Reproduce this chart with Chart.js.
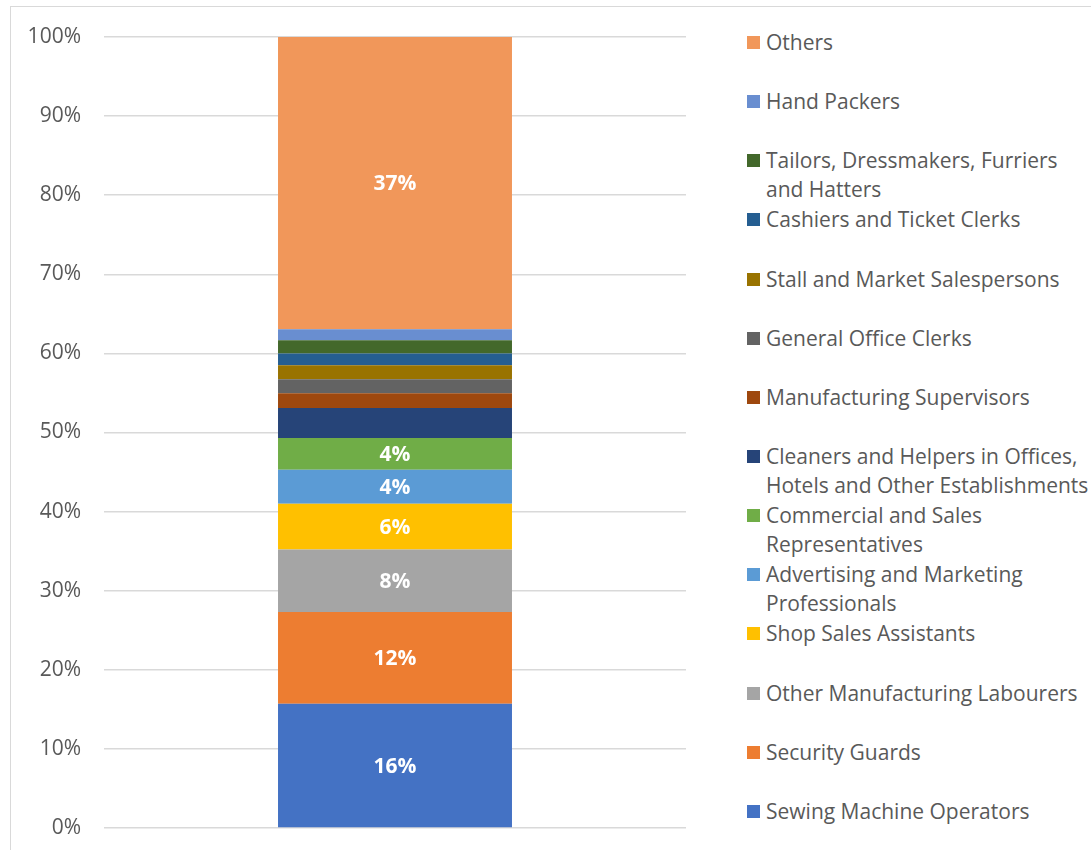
<!DOCTYPE html>
<html>
<head>
<meta charset="utf-8">
<script src="https://cdn.jsdelivr.net/npm/chart.js@4"></script>
<style>
    html, body { margin: 0; padding: 0; background: #fff; }
    body { width: 1091px; height: 850px; position: relative; overflow: hidden; font-family: "Open Sans", sans-serif; }
    #frame { position: absolute; left: 10px; top: 6px; width: 1100px; height: 860px; border: 1px solid #d9d9d9; box-sizing: border-box; }
    #chart { position: absolute; left: 0; top: 0; }
    #legend { position: absolute; left: 747px; top: 28px; }
    .item { display: flex; height: 59.15px; }
    .swatch { width: 13px; height: 13px; margin-top: 8px; flex: none; }
    .text { margin-left: 6px; line-height: 29px; font-size: 21px; color: #595959; white-space: pre; }
</style>
</head>
<body>
<div id="frame"></div>
<canvas id="chart" width="700" height="850"></canvas>
<div id="legend"></div>
<script>
// bottom of the stack first
const occupations = [
    'Sewing Machine Operators',
    'Security Guards',
    'Other Manufacturing Labourers',
    'Shop Sales Assistants',
    'Advertising and Marketing\nProfessionals',
    'Commercial and Sales\nRepresentatives',
    'Cleaners and Helpers in Offices,\nHotels and Other Establishments',
    'Manufacturing Supervisors',
    'General Office Clerks',
    'Stall and Market Salespersons',
    'Cashiers and Ticket Clerks',
    'Tailors, Dressmakers, Furriers\nand Hatters',
    'Hand Packers',
    'Others'
];
const shares = [15.7, 11.6, 7.9, 5.8, 4.3, 4.0, 3.8, 1.86, 1.77, 1.77, 1.48, 1.68, 1.39, 36.96];
const colors = ['#4472C4', '#ED7D31', '#A5A5A5', '#FFC000', '#5B9BD5', '#70AD47', '#264478',
    '#9E480E', '#636363', '#997300', '#255E91', '#43682B', '#698ED0', '#F1975A'];
const yTicks = [0, 10, 20, 30, 40, 50, 60, 70, 80, 90, 100];

const datasets = occupations.map((name, i) => ({
    label: name,
    data: [shares[i]],
    backgroundColor: colors[i],
    borderWidth: 0,
    barPercentage: 0.402,
    categoryPercentage: 1
}));

// white percentage labels inside the larger segments
const segmentLabels = {
    id: 'segmentLabels',
    afterDatasetsDraw(chart) {
        const ctx = chart.ctx;
        ctx.save();
        ctx.fillStyle = '#ffffff';
        ctx.font = 'bold 21px "Open Sans"';
        ctx.textAlign = 'center';
        ctx.textBaseline = 'middle';
        chart.data.datasets.forEach((ds, i) => {
            const v = ds.data[0];
            if (v < 4) return;
            const bar = chart.getDatasetMeta(i).data[0];
            ctx.fillText(Math.round(v) + '%', bar.x, (bar.y + bar.base) / 2 + 1);
        });
        ctx.restore();
    }
};

const chart = new Chart(document.getElementById('chart'), {
    type: 'bar',
    data: { labels: [''], datasets: datasets },
    plugins: [segmentLabels],
    options: {
        responsive: false,
        animation: false,
        layout: { padding: { top: 37, bottom: 22, right: 14, left: 0 } },
        plugins: {
            legend: { display: false },
            tooltip: { enabled: false }
        },
        scales: {
            x: {
                stacked: true,
                display: false,
                afterFit: (scale) => { scale.height = 0; scale.paddingLeft = 0; scale.paddingRight = 0; }
            },
            y: {
                stacked: true,
                min: 0,
                max: 100,
                afterFit: (scale) => { scale.width = 104; scale.paddingTop = 0; scale.paddingBottom = 0; },
                afterBuildTicks: (scale) => { scale.ticks = yTicks.map(v => ({ value: v })); },
                border: { display: false },
                grid: { color: '#d9d9d9', lineWidth: 1.5, drawTicks: false },
                ticks: {
                    padding: 23,
                    color: '#595959',
                    font: { family: '"Open Sans"', size: 21 },
                    callback: (v) => v + '%'
                }
            }
        }
    }
});

// legend: top of the stack first
const legendEl = document.getElementById('legend');
Chart.defaults.plugins.legend.labels.generateLabels(chart).reverse().forEach(item => {
    const row = document.createElement('div');
    row.className = 'item';
    row.innerHTML = `<div class="swatch" style="background:${item.fillStyle}"></div><div class="text"></div>`;
    row.querySelector('.text').textContent = item.text;
    legendEl.appendChild(row);
});
</script>
</body>
</html>
